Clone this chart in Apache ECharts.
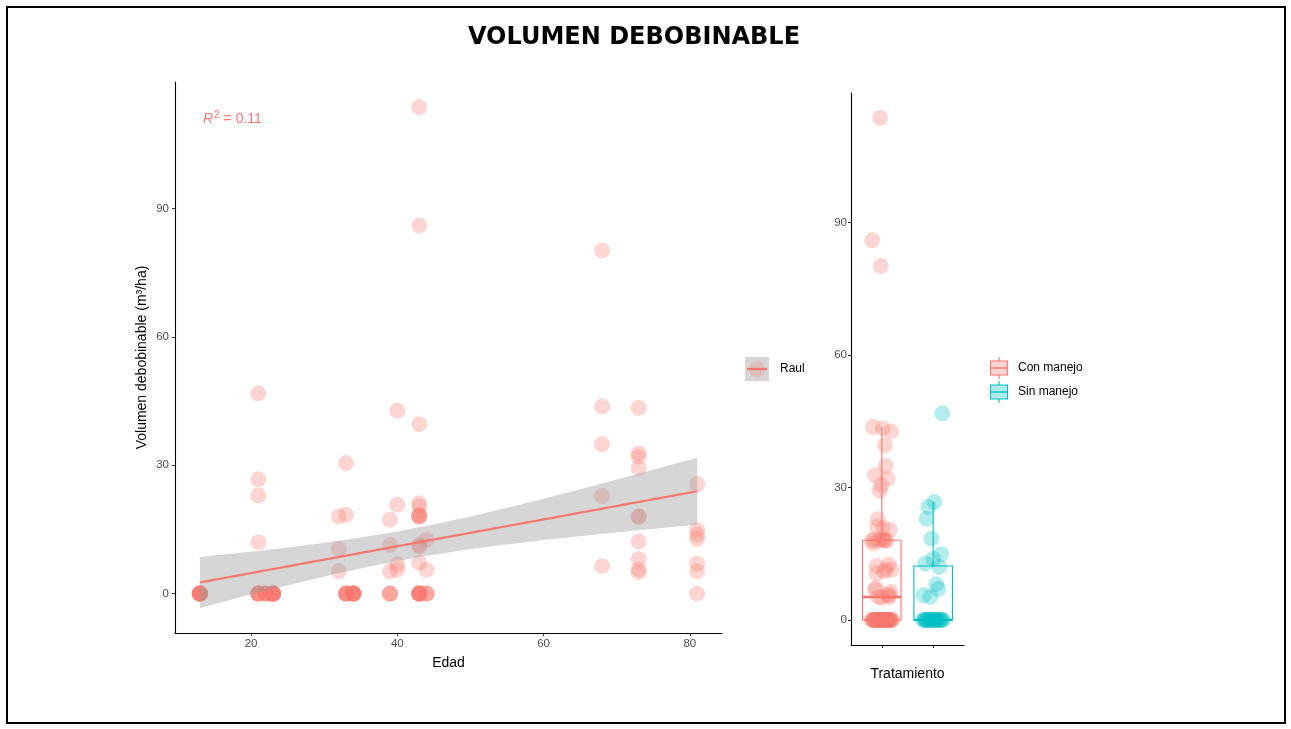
<!DOCTYPE html>
<html>
<head>
<meta charset="utf-8">
<title>Volumen debobinable</title>
<script src="https://cdn.jsdelivr.net/npm/echarts@6/dist/echarts.min.js"></script>
<style>
  html, body { margin: 0; padding: 0; background: #fff; }
  #chart { width: 1291px; height: 729px; }
</style>
</head>
<body>
<div id="chart"></div>
<script>
// ---- Data: stand age (Edad, years) and debobinable volume (m³/ha) per plot ----
// Con manejo
const conEdad = [
  32, 32, 32, 33, 39, 39, 39, 40, 40, 40, 40,
  43, 43, 43, 43, 43, 43, 43, 43, 43, 43, 43, 43,
  44, 68, 68, 68, 68, 68, 73, 73, 73, 73, 73, 73, 73, 73, 73,
  13, 13, 13, 23, 23, 23, 23, 23, 23, 33, 33, 33, 33, 33,
  34, 34, 34, 34, 34, 34, 34, 39, 39, 39,
  43, 43, 43, 43, 43, 43, 43, 44, 44, 44
];
const conVol = [
  18.0, 10.5, 5.2, 30.5, 17.3, 11.4, 5.2, 42.7, 20.8, 6.8, 5.6,
  113.7, 86.0, 39.6, 21.1, 20.4, 18.4, 18.2, 18.0, 18.0, 11.4, 11.0, 7.2,
  12.6, 80.2, 43.7, 34.9, 22.8, 6.4, 43.4, 32.8, 32.0, 29.3, 18.0, 18.0, 12.2, 5.7, 5.0,
  0, 0, 0, 0, 0, 0, 0, 0, 0, 0, 0, 0, 0, 0,
  0, 0, 0, 0, 0, 0, 0, 0, 0, 0,
  0, 0, 0, 0, 0, 0, 0, 0, 0, 0
];
// Sin manejo
const sinEdad = [
  21, 21, 21, 21, 33, 44, 73, 81, 81, 81, 81, 81, 81,
  13, 13, 13, 13, 13, 13, 21, 21, 21, 21, 21, 22, 22, 22, 22, 23, 23, 23, 81
];
const sinVol = [
  46.8, 26.7, 22.9, 12.0, 18.4, 5.6, 8.1, 25.6, 14.9, 13.8, 12.8, 7.0, 5.2,
  0, 0, 0, 0, 0, 0, 0, 0, 0, 0, 0, 0, 0, 0, 0, 0, 0, 0, 0
];

const tratamientos = ['Con manejo', 'Sin manejo'];
const grupoLeyenda = 'Raul';
const titulo = 'VOLUMEN DEBOBINABLE';
const edadTicks = [20, 40, 60, 80];
const volTicks = [0, 30, 60, 90];

// ---- Styling ----
const RED = '#F8766D';
const CYAN = '#00BFC4';
const FONT = "'Liberation Sans', Arial, sans-serif";
const PT_SIZE = 16;
const PT_ALPHA = 0.3;
const BOX_HALF = 0.375;
const JITTER = 0.2;

// ---- Helpers ----
function mean(a) { return a.reduce((s, v) => s + v, 0) / a.length; }
function quantile7(sorted, p) {
  const h = (sorted.length - 1) * p;
  const lo = Math.floor(h), hi = Math.ceil(h);
  return sorted[lo] + (h - lo) * (sorted[hi] - sorted[lo]);
}
function boxStats(vals) {
  const s = vals.slice().sort((a, b) => a - b);
  const q1 = quantile7(s, 0.25), md = quantile7(s, 0.5), q3 = quantile7(s, 0.75);
  const iqr = q3 - q1;
  const lo = s.find(v => v >= q1 - 1.5 * iqr);
  const hi = s.slice().reverse().find(v => v <= q3 + 1.5 * iqr);
  return [lo, q1, md, q3, hi];
}
// Student t quantile (0.975) via Cornish-Fisher expansion
function t975(df) {
  const z = 1.959964;
  return z + (z ** 3 + z) / (4 * df) + (5 * z ** 5 + 16 * z ** 3 + 3 * z) / (96 * df * df);
}
// deterministic horizontal spread for the points inside each box
function spread(i) { return (((i + 1) * 0.6180339887) % 1 - 0.5) * 2 * JITTER; }

// ---- Linear fit of volume on age with 95% confidence band ----
const allX = conEdad.concat(sinEdad);
const allY = conVol.concat(sinVol);
const n = allX.length;
const mx = mean(allX), my = mean(allY);
let sxx = 0, sxy = 0, syy = 0;
for (let i = 0; i < n; i++) {
  const dx = allX[i] - mx, dy = allY[i] - my;
  sxx += dx * dx; sxy += dx * dy; syy += dy * dy;
}
const slope = sxy / sxx;
const icpt = my - slope * mx;
const r2 = (sxy * sxy) / (sxx * syy);
const sRes = Math.sqrt((syy - slope * sxy) / (n - 2));
const tq = t975(n - 2);
const xMin = Math.min(...allX), xMax = Math.max(...allX);
const band = [];
for (let k = 0; k < 80; k++) {
  const x = xMin + (xMax - xMin) * k / 79;
  const f = icpt + slope * x;
  const se = sRes * Math.sqrt(1 / n + (x - mx) ** 2 / sxx);
  band.push([x, f - tq * se, f + tq * se, f]);
}
const fitLine = band.map(b => [b[0], b[3]]);

// ---- Axis ranges (5% padding) ----
const yLo = Math.min(...allY, ...band.map(b => b[1]));
const yHi = Math.max(...allY, ...band.map(b => b[2]));
const padY = 0.05 * (yHi - yLo);
const padX = 0.05 * (xMax - xMin);
const vMax = Math.max(...allY), vMin = Math.min(...allY);
const padV = 0.05 * (vMax - vMin);

// ---- Box plot statistics per treatment ----
const boxData = [boxStats(conVol), boxStats(sinVol)].map((s, i) => [i + 1].concat(s));
const conPts = conVol.map((v, i) => [1 + spread(i), v]);
const sinPts = sinVol.map((v, i) => [2 + spread(i + 7), v]);

const axisLine = { show: true, onZero: false, lineStyle: { color: '#000', width: 1.1 } };
const tickStyle = { color: '#333', width: 1 };
const labelStyle = { color: '#4D4D4D', fontSize: 11.5, fontFamily: FONT };
const nameStyle = { color: '#000', fontSize: 14, fontFamily: FONT };

const chart = echarts.init(document.getElementById('chart'));
chart.setOption({
  animation: false,
  backgroundColor: '#fff',
  grid: [
    { left: 175, top: 82, width: 547, height: 551, outerBoundsMode: 'none' },
    { left: 851, top: 93, width: 113, height: 552, outerBoundsMode: 'none' }
  ],
  xAxis: [
    {
      type: 'value', gridIndex: 0, min: xMin - padX, max: xMax + padX,
      name: 'Edad', nameLocation: 'middle', nameGap: 23, nameTextStyle: nameStyle,
      axisLine: axisLine,
      axisTick: { show: true, length: 3, lineStyle: tickStyle, customValues: edadTicks },
      axisLabel: Object.assign({ margin: 5, customValues: edadTicks }, labelStyle),
      splitLine: { show: false }
    },
    {
      type: 'value', gridIndex: 1, min: 0.4, max: 2.6,
      name: 'Tratamiento', nameLocation: 'middle', nameGap: 22, nameTextStyle: nameStyle,
      axisLine: axisLine,
      axisTick: { show: true, length: 3, lineStyle: tickStyle, customValues: [1, 2] },
      axisLabel: { show: false },
      splitLine: { show: false }
    }
  ],
  yAxis: [
    {
      type: 'value', gridIndex: 0, min: yLo - padY, max: yHi + padY,
      name: 'Volumen debobinable (m³/ha)', nameLocation: 'middle', nameGap: 26, nameTextStyle: nameStyle,
      axisLine: axisLine,
      axisTick: { show: true, length: 3, lineStyle: tickStyle, customValues: volTicks },
      axisLabel: Object.assign({ margin: 6, customValues: volTicks }, labelStyle),
      splitLine: { show: false }
    },
    {
      type: 'value', gridIndex: 1, min: vMin - padV, max: vMax + padV,
      axisLine: axisLine,
      axisTick: { show: true, length: 3, lineStyle: tickStyle, customValues: volTicks },
      axisLabel: Object.assign({ margin: 4, customValues: volTicks }, labelStyle),
      splitLine: { show: false }
    }
  ],
  series: [
    {
      name: grupoLeyenda, type: 'scatter', xAxisIndex: 0, yAxisIndex: 0,
      data: allX.map((x, i) => [x, allY[i]]),
      symbolSize: PT_SIZE, itemStyle: { color: RED, opacity: PT_ALPHA }, z: 2, silent: true
    },
    {
      type: 'custom', xAxisIndex: 0, yAxisIndex: 0, z: 3, silent: true,
      data: band.map(b => [b[0], b[1], b[2]]),
      encode: { x: 0, y: [1, 2] },
      renderItem: function (params, api) {
        if (params.dataIndex !== 0) return null;
        const up = band.map(b => api.coord([b[0], b[2]]));
        const lo = band.map(b => api.coord([b[0], b[1]])).reverse();
        return { type: 'polygon', shape: { points: up.concat(lo) }, style: { fill: 'rgba(153,153,153,0.4)' } };
      }
    },
    {
      type: 'line', xAxisIndex: 0, yAxisIndex: 0, data: fitLine, showSymbol: false,
      lineStyle: { color: RED, width: 2.2 }, z: 4, silent: true
    },
    {
      type: 'custom', xAxisIndex: 1, yAxisIndex: 1, z: 2, silent: true,
      data: boxData,
      encode: { x: 0, y: [1, 2, 3, 4, 5] },
      renderItem: function (params, api) {
        const c = api.value(0);
        const col = params.dataIndex === 0 ? RED : CYAN;
        const y = k => api.coord([c, api.value(k)])[1];
        const xc = api.coord([c, 0])[0];
        const xl = api.coord([c - BOX_HALF, 0])[0];
        const xr = api.coord([c + BOX_HALF, 0])[0];
        const ln = { stroke: col, lineWidth: 1.1 };
        return {
          type: 'group', children: [
            { type: 'line', shape: { x1: xc, y1: y(4), x2: xc, y2: y(5) }, style: ln },
            { type: 'line', shape: { x1: xc, y1: y(2), x2: xc, y2: y(1) }, style: ln },
            { type: 'rect', shape: { x: xl, y: y(4), width: xr - xl, height: y(2) - y(4) }, style: { fill: '#fff', stroke: col, lineWidth: 1.1 } },
            { type: 'line', shape: { x1: xl, y1: y(3), x2: xr, y2: y(3) }, style: { stroke: col, lineWidth: 2.4 } }
          ]
        };
      }
    },
    {
      name: tratamientos[0], type: 'scatter', xAxisIndex: 1, yAxisIndex: 1, data: conPts,
      symbolSize: PT_SIZE, itemStyle: { color: RED, opacity: PT_ALPHA }, z: 3, silent: true
    },
    {
      name: tratamientos[1], type: 'scatter', xAxisIndex: 1, yAxisIndex: 1, data: sinPts,
      symbolSize: PT_SIZE, itemStyle: { color: CYAN, opacity: PT_ALPHA }, z: 3, silent: true
    }
  ],
  graphic: [
    // outer frame
    { type: 'rect', shape: { x: 7, y: 7, width: 1278, height: 716 }, style: { fill: 'none', stroke: '#000', lineWidth: 2 }, silent: true },
    // title
    {
      type: 'text', x: 634, y: 38,
      style: {
        text: titulo, textAlign: 'center', verticalAlign: 'middle',
        fontFamily: "'DejaVu Sans', Verdana, sans-serif", fontWeight: 'bold', fontSize: 24, fill: '#000'
      }
    },
    // coefficient of determination
    {
      type: 'text', left: 203, top: 110,
      style: {
        text: '{i|R}{s|2}{n| = ' + r2.toFixed(2) + '}',
        rich: {
          i: { fontStyle: 'italic', fontSize: 14, fontFamily: FONT, fill: RED },
          s: { fontSize: 10, fontFamily: FONT, fill: RED, padding: [0, 0, 9, 1] },
          n: { fontSize: 14, fontFamily: FONT, fill: RED }
        }
      }
    },
    // legend: fitted group
    { type: 'rect', shape: { x: 745, y: 357, width: 24, height: 24 }, style: { fill: '#D6D6D6' }, silent: true },
    { type: 'circle', shape: { cx: 757, cy: 369, r: 8 }, style: { fill: 'rgba(248,118,109,0.25)' }, silent: true },
    { type: 'line', shape: { x1: 747, y1: 369, x2: 767, y2: 369 }, style: { stroke: RED, lineWidth: 2.2 }, silent: true },
    { type: 'text', x: 780, y: 369, style: { text: grupoLeyenda, fontSize: 12, fontFamily: FONT, fill: '#000', verticalAlign: 'middle' } },
    // legend: treatments
    ...tratamientos.flatMap((t, i) => {
      const col = i === 0 ? RED : CYAN;
      const cy = 368 + i * 24;
      const fill = i === 0 ? 'rgba(248,118,109,0.3)' : 'rgba(0,191,196,0.3)';
      return [
        { type: 'line', shape: { x1: 999, y1: cy - 11, x2: 999, y2: cy - 7 }, style: { stroke: col, lineWidth: 1.1 }, silent: true },
        { type: 'line', shape: { x1: 999, y1: cy + 7, x2: 999, y2: cy + 11 }, style: { stroke: col, lineWidth: 1.1 }, silent: true },
        { type: 'rect', shape: { x: 990.5, y: cy - 7, width: 17, height: 14 }, style: { fill: fill, stroke: col, lineWidth: 1.1 }, silent: true },
        { type: 'line', shape: { x1: 990.5, y1: cy, x2: 1007.5, y2: cy }, style: { stroke: col, lineWidth: 1.4 }, silent: true },
        { type: 'text', x: 1018, y: cy, style: { text: t, fontSize: 12, fontFamily: FONT, fill: '#000', verticalAlign: 'middle' } }
      ];
    })
  ]
});
</script>
</body>
</html>
